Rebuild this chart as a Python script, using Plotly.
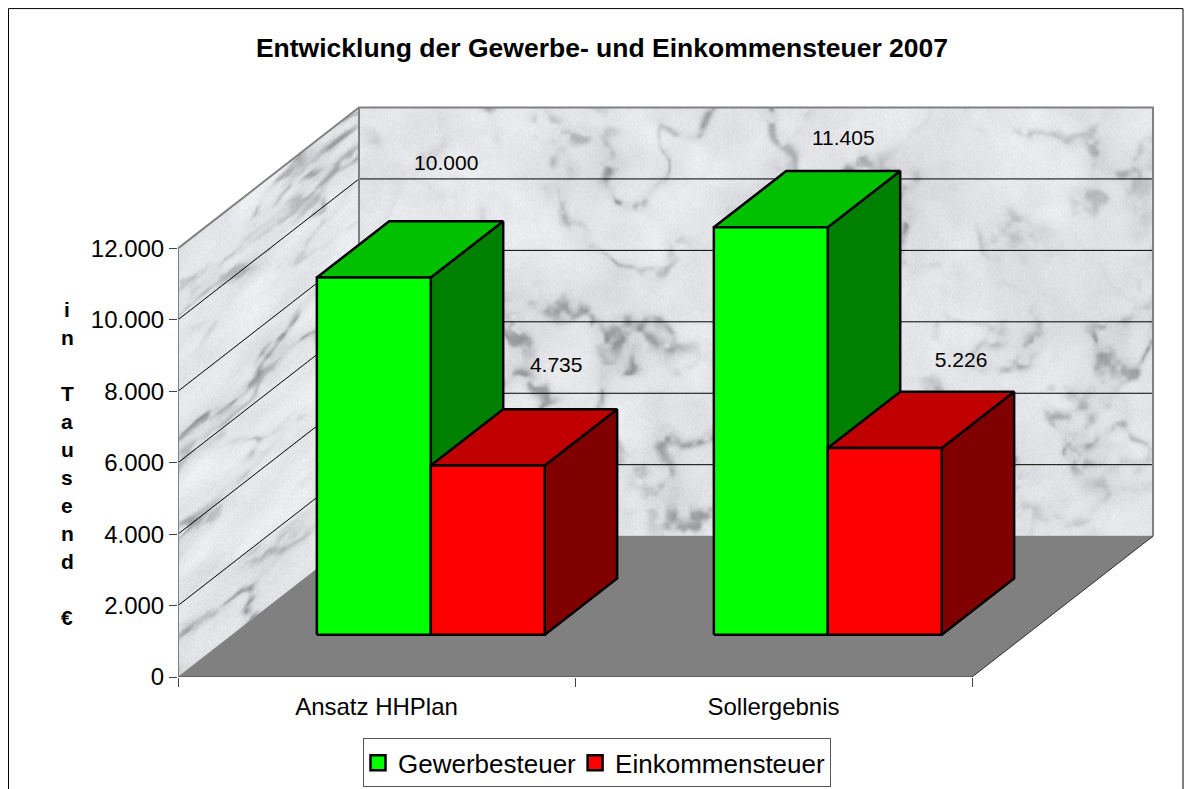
"""3D style column chart: Gewerbe- und Einkommensteuer 2007, oblique projection on 2D axes."""
import base64
import struct
import zlib
import numpy as np
import plotly.graph_objects as go

FONT = 'Liberation Sans, Arial, sans-serif'

CATEGORIES = ['Ansatz HHPlan', 'Sollergebnis']
GEWERBE = [10000, 11405]
EINKOMMEN = [4735, 5226]
Y_TICKS = [0, 2000, 4000, 6000, 8000, 10000, 12000]
Y_TICK_LABELS = ['0', '2.000', '4.000', '6.000', '8.000', '10.000', '12.000']
AXIS_TITLE = ['i', 'n', '', 'T', 'a', 'u', 's', 'e', 'n', 'd', '', '€']

# page geometry, the browser keeps an 8px body margin round the figure
BODY = 8
W, H = 1184, 781
LEFT, BOTTOM, TOP, RIGHT = 178 - BODY, 677.5 - BODY, 100 - BODY, 1160 - BODY
PX_CAT = 397.0      # pixels per category
PX_VAL = 0.03575    # pixels per value unit

# oblique depth offset, in axis units
DEPTH_X = 181 / PX_CAT
DEPTH_Y = 141 / PX_VAL
BAR_W = 0.287
D0, D1 = 0.3, 0.7
Y_MAX = 12000
N_CAT = len(CATEGORIES)

def to_x(c, d=0.0):
    return c + d * DEPTH_X

def to_y(v, d=0.0):
    return v + d * DEPTH_Y

def paper_x(px):
    return (px - BODY - LEFT) / (RIGHT - LEFT)

def paper_y(px):
    return (BOTTOM - (px - BODY)) / (BOTTOM - TOP)

# ---------- marble wall texture ------------------------------------------------------
def hash2(i, j):
    s = np.sin(i * 12.9898 + j * 78.233) * 43758.5453
    return s - np.floor(s)

def vnoise(u, v):
    iu, iv = np.floor(u), np.floor(v)
    fu, fv = u - iu, v - iv
    fu = fu * fu * (3 - 2 * fu)
    fv = fv * fv * (3 - 2 * fv)
    a = hash2(iu, iv) * (1 - fu) + hash2(iu + 1, iv) * fu
    b = hash2(iu, iv + 1) * (1 - fu) + hash2(iu + 1, iv + 1) * fu
    return a * (1 - fv) + b * fv

def fbm(u, v, n=4):
    out, amp, tot = 0, 1.0, 0
    for k in range(n):
        out = out + amp * vnoise(u * 2 ** k + 3.1 * k, v * 2 ** k + 1.7 * k)
        tot += amp
        amp *= 0.5
    return out / tot

def marble(u, v):
    wu = fbm(u / 50 + 5, v / 50 + 9, 2)
    wv = fbm(u / 50 + 21, v / 50 + 2, 2)
    n = fbm(u / 60 + 0.6 * wu, v / 60 + 0.6 * wv, 3)
    mask = np.clip(fbm(u / 90 + 40, v / 90 + 17, 2) * 3.0 - 0.9, 0.1, 1)
    broken = np.clip(fbm(u / 11 + 7, v / 11 + 3, 2) * 3.2 - 1.1, 0, 1)
    vein = np.exp(-(np.abs(n - 0.5) / 0.05) ** 2) * mask * broken
    haze = np.exp(-(np.abs(n - 0.5) / 0.09) ** 2) * mask
    cloud = fbm(u / 40 + 11, v / 40 + 31, 3)
    grain = hash2(u + 0.37, v + 0.11) - 0.5
    return 243 - 26 * (1 - cloud) - 62 * vein - 14 * haze + 12 * grain

tex_w, tex_h = 976, 572
top_px = BOTTOM - (Y_MAX + DEPTH_Y) * PX_VAL
xx, yy = np.meshgrid(np.arange(tex_w, dtype=float), np.arange(tex_h, dtype=float))
dx_px = DEPTH_X * PX_CAT
dy_px = DEPTH_Y * PX_VAL
yy_abs = yy + top_px
shade = marble(xx, yy_abs)
# side wall: the same stone sheared along the depth direction, stretched
side = xx < dx_px
yy_side = yy_abs + xx * dy_px / dx_px
shade_side = marble(xx * 0.8 + 500, yy_side * 1.5 + 200) + 3
shade = np.where(side, shade_side, shade)
alpha = np.full(shade.shape, 255.0)
y_front_top = BOTTOM - Y_MAX * PX_VAL - top_px
y_front_bot = BOTTOM - top_px
alpha[side & ((yy < y_front_top - xx * dy_px / dx_px) | (yy > y_front_bot - xx * dy_px / dx_px))] = 0
alpha[(~side) & (yy > y_front_bot - dy_px + 2)] = 0
rgba = np.dstack([np.clip(shade - 2, 0, 255), np.clip(shade - 1, 0, 255),
                  np.clip(shade + 2, 0, 255), alpha]).astype(np.uint8)

def png_uri(arr):
    h, w, _ = arr.shape
    raw = b''.join(b'\x00' + arr[r].tobytes() for r in range(h))
    def chunk(t, d):
        return struct.pack('>I', len(d)) + t + d + struct.pack('>I', zlib.crc32(t + d))
    data = (b'\x89PNG\r\n\x1a\n' + chunk(b'IHDR', struct.pack('>IIBBBBB', w, h, 8, 6, 0, 0, 0))
            + chunk(b'IDAT', zlib.compress(raw, 9)) + chunk(b'IEND', b''))
    return 'data:image/png;base64,' + base64.b64encode(data).decode()

# ---------- figure -------------------------------------------------------------------
fig = go.Figure()

def poly(xs, ys, fill, edge, width):
    fig.add_trace(go.Scatter(x=xs + xs[:1], y=ys + ys[:1], mode='lines', fill='toself',
                             fillcolor=fill, line=dict(color=edge, width=width),
                             showlegend=False, hoverinfo='skip'))

def seg(xs, ys, color, width):
    fig.add_trace(go.Scatter(x=xs, y=ys, mode='lines', line=dict(color=color, width=width),
                             showlegend=False, hoverinfo='skip'))

# floor
poly([to_x(0), to_x(N_CAT), to_x(N_CAT, 1), to_x(0, 1)], [0, 0, to_y(0, 1), to_y(0, 1)],
     '#808080', '#808080', 0.5)
seg([to_x(N_CAT), to_x(N_CAT, 1)], [0, to_y(0, 1)], '#333333', 1)

# grid lines on both walls
for t in Y_TICKS[1:-1]:
    seg([to_x(0), to_x(0, 1), to_x(N_CAT, 1)], [t, to_y(t, 1), to_y(t, 1)], 'black', 1)

# wall edges
seg([to_x(0), to_x(0), to_x(0, 1), to_x(N_CAT, 1), to_x(N_CAT, 1)],
    [0, Y_MAX, to_y(Y_MAX, 1), to_y(Y_MAX, 1), to_y(0, 1)], '#808080', 2)
seg([to_x(0, 1), to_x(0, 1)], [to_y(0, 1), to_y(Y_MAX, 1)], '#808080', 2)
seg([to_x(0), to_x(N_CAT)], [0, 0], '#444444', 1)

# bars, back to front within each group
SERIES = [(GEWERBE, 0, '#00FF00', '#00C000', '#008000'),
          (EINKOMMEN, 1, '#FF0000', '#C00000', '#800000')]
for ci in range(N_CAT):
    for vals, si, front, top, dark in SERIES:
        x0 = ci + 0.5 - BAR_W + si * BAR_W
        x1 = x0 + BAR_W
        v = vals[ci]
        poly([to_x(x1, D0), to_x(x1, D1), to_x(x1, D1), to_x(x1, D0)],
             [to_y(0, D0), to_y(0, D1), to_y(v, D1), to_y(v, D0)], dark, 'black', 2.5)
        poly([to_x(x0, D0), to_x(x1, D0), to_x(x1, D1), to_x(x0, D1)],
             [to_y(v, D0), to_y(v, D0), to_y(v, D1), to_y(v, D1)], top, 'black', 2.5)
        poly([to_x(x0, D0), to_x(x1, D0), to_x(x1, D0), to_x(x0, D0)],
             [to_y(0, D0), to_y(0, D0), to_y(v, D0), to_y(v, D0)], front, 'black', 2.5)

# value labels, lifted off the back top edge of each column
LABEL_LIFT = [1590, 1200, 870, 830]
LABEL_NUDGE = [0.0, -0.01, 0.0, 0.01]
label_vals, label_cx = [], []
for ci in range(N_CAT):
    for vals, si, *_ in SERIES:
        label_vals.append(vals[ci])
        label_cx.append(ci + 0.5 - BAR_W / 2 + si * BAR_W)
fig.add_trace(go.Scatter(
    x=[to_x(c + n, D1) for c, n in zip(label_cx, LABEL_NUDGE)],
    y=[to_y(v + l, D1) for v, l in zip(label_vals, LABEL_LIFT)],
    mode='text', text=[f'{v:,}'.replace(',', '.') for v in label_vals],
    textposition='middle center', textfont=dict(family=FONT, size=21, color='black'),
    showlegend=False, hoverinfo='skip'))

# legend entries
for name, colour in [('Gewerbesteuer', '#00FF00'), ('Einkommensteuer', '#FF0000')]:
    fig.add_trace(go.Scatter(x=[None], y=[None], mode='markers', name=name,
                             marker=dict(symbol='square', size=15, color=colour,
                                         line=dict(color='black', width=2.5))))

# vertical axis title, one letter per row
annotations = []
for i, ch in enumerate(AXIS_TITLE):
    if ch:
        annotations.append(dict(text=f'<b>{ch}</b>', xref='paper', yref='paper',
                                x=paper_x(67), y=paper_y(310 + 28 * i),
                                xanchor='center', yanchor='middle', showarrow=False,
                                font=dict(family=FONT, size=21, color='black')))

fig.update_layout(
    width=W, height=H, autosize=False,
    margin=dict(l=LEFT, r=W - RIGHT, t=TOP, b=H - BOTTOM, pad=0, autoexpand=False),
    paper_bgcolor='white', plot_bgcolor='white',
    font=dict(family=FONT, size=24, color='black'),
    title=dict(text='<b>Entwicklung der Gewerbe- und Einkommensteuer 2007</b>',
               font=dict(family=FONT, size=26.5, color='black'),
               x=(602 - BODY) / W, xanchor='center', y=1 - (48 - BODY) / H, yanchor='middle'),
    xaxis=dict(range=[0, (RIGHT - LEFT) / PX_CAT], tickmode='array', tickvals=[0.5, 1.5],
               ticktext=CATEGORIES, ticks='', showgrid=False, zeroline=False, showline=False,
               ticklabelstandoff=13, tickfont=dict(size=24),
               minor=dict(tickmode='array', tickvals=[0, 1, 2], ticks='outside', ticklen=9,
                          tickcolor='#444444', tickwidth=1, showgrid=False)),
    yaxis=dict(range=[0, (BOTTOM - TOP) / PX_VAL], tickmode='array', tickvals=Y_TICKS,
               ticktext=Y_TICK_LABELS, ticks='outside', ticklen=8, tickcolor='#444444',
               tickwidth=1, showgrid=False, zeroline=False, showline=False,
               tickfont=dict(size=24)),
    images=[dict(source=png_uri(rgba), xref='x', yref='y', x=0, y=(BOTTOM - top_px) / PX_VAL,
                 sizex=tex_w / PX_CAT, sizey=tex_h / PX_VAL, sizing='stretch',
                 xanchor='left', yanchor='top', layer='below')],
    shapes=[dict(type='rect', xref='paper', yref='paper',
                 x0=paper_x(8.5), x1=paper_x(1183), y0=paper_y(800), y1=paper_y(8.5),
                 line=dict(color='black', width=1))],
    annotations=annotations,
    showlegend=True,
    legend=dict(orientation='h', x=paper_x(363), xanchor='left', y=paper_y(739), yanchor='top',
                bgcolor='white', bordercolor='#555555', borderwidth=1, indentation=-6,
                font=dict(family=FONT, size=26, color='black'), itemclick=False),
)
fig.write_html("out.html")
